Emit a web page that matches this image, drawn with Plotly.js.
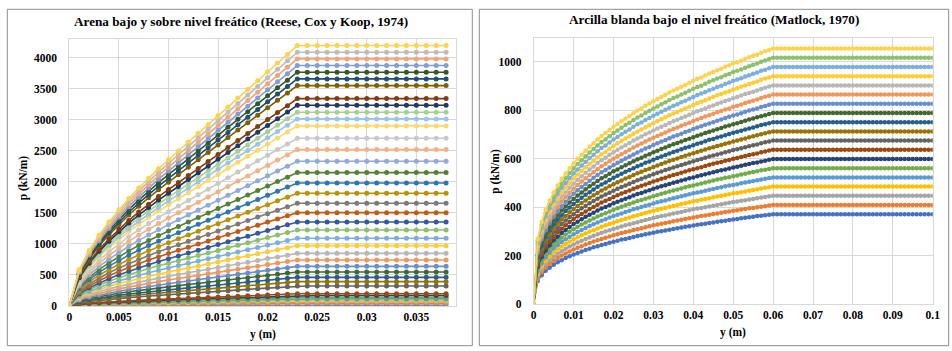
<!DOCTYPE html>
<html>
<head>
<meta charset="utf-8">
<script src="https://cdn.plot.ly/plotly-3.0.1.min.js"></script>
<style>
  html, body { margin: 0; padding: 0; background: #ffffff; }
  #chart { width: 952px; height: 351px; }
</style>
</head>
<body>
<div id="chart"></div>
<script>
// ---------- Left chart: Arena (Reese, Cox y Koop, 1974) ----------
const sandY = [0,0.001,0.002,0.003,0.004,0.005,0.006,0.007,0.008,0.009,0.010,0.011,0.012,0.013,0.014,0.015,0.016,0.017,0.018,0.019,0.020,0.021,0.022,0.023,0.024,0.025,0.026,0.027,0.028,0.029,0.030,0.031,0.032,0.033,0.034,0.035,0.036,0.037,0.038];

// plateau value (p_u) of each curve, bottom to top
const sandCap = [5,35,60,85,110,135,165,192,318,388,458,544,635,738,845,969,1088,1222,1351,1502,1653,1814,1981,2148,2331,2520,2703,2902,3015,3123,3236,3343,3553,3661,3769,3876,3984,4092,4199];

// rising part of each curve, y = 0 ... 0.022 m
const sandRise = [
  [0,0.7,1.1,1.4,1.6,1.8,2.1,2.3,2.5,2.6,2.8,3,3.1,3.3,3.5,3.7,3.8,4,4.2,4.3,4.5,4.7,4.8],
  [0,5,7,9,11,13,14,16,17,18,20,21,22,23,24,26,27,28,29,30,31,33,34],
  [0,8,13,16,19,22,25,27,29,32,34,36,38,40,42,44,46,48,50,52,54,56,58],
  [0,12,18,23,27,31,35,38,42,45,48,51,53,56,59,62,65,68,71,74,76,79,82],
  [0,15,23,30,35,41,45,50,54,58,62,65,69,73,77,80,84,88,91,95,99,103,106],
  [0,19,29,37,43,50,56,61,66,71,76,80,85,90,94,99,103,108,112,117,121,126,130],
  [0,23,35,45,53,61,68,75,81,87,93,98,104,109,115,120,126,132,137,143,148,154,159],
  [0,27,41,52,62,71,79,87,94,101,108,114,121,127,134,140,147,153,160,166,173,179,185],
  [0,44,67,86,102,117,131,144,156,168,178,189,200,211,221,232,243,254,264,275,286,297,307],
  [0,54,82,105,125,143,160,175,190,204,218,231,244,257,270,283,296,310,322,336,349,362,375],
  [0,64,97,124,147,169,189,207,224,241,257,273,288,304,319,334,350,365,381,396,412,427,442],
  [0,76,115,147,175,201,224,246,267,287,305,324,342,361,379,397,416,434,452,471,489,508,526],
  [0,88,135,172,204,234,262,287,311,335,356,378,399,421,442,464,485,507,528,549,571,592,613],
  [0,103,156,200,238,272,304,334,362,389,414,439,464,489,514,539,564,589,613,638,663,689,713],
  [0,117,179,229,272,312,348,382,414,445,474,503,532,560,588,617,646,674,702,731,760,788,816],
  [0,135,205,263,312,358,399,438,475,511,544,577,609,642,674,707,740,773,805,838,871,904,936],
  [0,151,231,295,350,401,448,492,533,573,610,647,684,721,757,794,831,868,904,941,978,1015,1051],
  [0,170,259,331,393,451,503,552,599,644,686,727,769,810,851,892,934,975,1015,1057,1099,1140,1180],
  [0,188,286,366,435,499,557,611,662,712,758,804,850,896,940,986,1032,1078,1123,1169,1215,1260,1305],
  [0,209,318,407,484,554,619,679,736,792,843,894,945,996,1045,1097,1148,1199,1248,1299,1350,1401,1451],
  [0,230,350,448,532,610,681,747,810,871,927,984,1040,1096,1151,1207,1263,1319,1374,1430,1486,1542,1597],
  [0,252,385,492,584,669,747,820,889,956,1018,1079,1141,1203,1263,1324,1386,1448,1507,1569,1631,1692,1752],
  [0,275,420,537,638,731,816,895,971,1044,1111,1179,1246,1313,1379,1446,1513,1581,1646,1714,1781,1848,1914],
  [0,299,455,582,692,793,885,971,1053,1132,1205,1278,1351,1424,1495,1568,1641,1714,1785,1858,1931,2004,2075],
  [0,324,494,632,751,860,960,1054,1142,1228,1308,1387,1466,1545,1622,1702,1781,1860,1937,2016,2096,2175,2252],
  [0,350,534,683,811,930,1038,1139,1235,1328,1414,1499,1585,1671,1754,1840,1925,2011,2094,2180,2265,2351,2434],
  [0,376,573,733,870,997,1114,1222,1325,1425,1516,1608,1700,1792,1881,1973,2065,2157,2246,2338,2430,2522,2611],
  [0,403,615,786,934,1071,1196,1312,1422,1529,1628,1727,1825,1924,2020,2118,2217,2316,2412,2510,2609,2708,2803],
  [0,419,639,817,971,1113,1242,1363,1477,1589,1691,1794,1896,1999,2098,2201,2303,2406,2505,2608,2710,2813,2912],
  [0,434,662,846,1006,1152,1287,1412,1530,1646,1752,1858,1964,2071,2174,2280,2386,2492,2595,2701,2808,2914,3017],
  [0,450,686,877,1042,1194,1333,1463,1586,1705,1815,1925,2035,2145,2252,2362,2472,2582,2689,2799,2909,3019,3126],
  [0,465,709,906,1076,1234,1377,1511,1638,1762,1875,1989,2103,2216,2327,2440,2554,2668,2778,2892,3005,3119,3229],
  [0,494,753,963,1144,1311,1464,1606,1741,1872,1993,2114,2235,2356,2473,2594,2715,2835,2953,3073,3194,3315,3432],
  [0,509,776,992,1179,1351,1508,1655,1794,1929,2054,2178,2303,2427,2548,2673,2797,2921,3042,3167,3291,3416,3537],
  [0,524,799,1021,1214,1391,1553,1704,1847,1986,2114,2243,2371,2499,2623,2751,2880,3008,3132,3260,3388,3516,3641],
  [0,539,822,1050,1248,1430,1597,1752,1899,2043,2174,2306,2438,2570,2698,2830,2961,3093,3221,3353,3485,3616,3744],
  [0,554,845,1080,1283,1470,1641,1801,1952,2100,2235,2370,2506,2641,2773,2908,3044,3179,3311,3446,3582,3717,3849],
  [0,569,868,1109,1318,1510,1686,1850,2005,2157,2296,2435,2574,2713,2848,2987,3126,3265,3400,3540,3679,3818,3953],
  [0,584,890,1138,1352,1549,1730,1898,2058,2213,2356,2498,2641,2784,2923,3065,3208,3351,3489,3632,3775,3918,4056]
];

// ---------- Right chart: Arcilla blanda (Matlock, 1970) ----------
const clayY = [0,0.001,0.002,0.003,0.004,0.005,0.006,0.007,0.008,0.009,0.010,0.011,0.012,0.013,0.014,0.015,0.016,0.017,0.018,0.019,0.020,0.021,0.022,0.023,0.024,0.025,0.026,0.027,0.028,0.029,0.030,0.031,0.032,0.033,0.034,0.035,0.036,0.037,0.038,0.039,0.040,0.041,0.042,0.043,0.044,0.045,0.046,0.047,0.048,0.049,0.050,0.051,0.052,0.053,0.054,0.055,0.056,0.057,0.058,0.059,0.060,0.061,0.062,0.063,0.064,0.065,0.066,0.067,0.068,0.069,0.070,0.071,0.072,0.073,0.074,0.075,0.076,0.077,0.078,0.079,0.080,0.081,0.082,0.083,0.084,0.085,0.086,0.087,0.088,0.089,0.090,0.091,0.092,0.093,0.094,0.095,0.096,0.097,0.098,0.099,0.100];

const clayCap = [371,409,447,485,523,561,599,637,675,713,751,789,827,865,903,941,979,1017,1055];

// rising part of each curve, y = 0 ... 0.060 m
const clayRise = [
  [0,95,119,137,150,162,172,181,190,197,204,211,217,223,228,234,239,244,248,253,257,261,266,269,273,277,281,284,288,291,294,298,301,304,307,310,313,316,319,321,324,327,329,332,335,337,340,342,344,347,349,351,354,356,358,360,363,365,367,369,371],
  [0,104,132,151,166,179,190,200,209,217,225,232,239,246,252,258,263,269,274,279,284,288,293,297,301,306,309,313,317,321,325,328,332,335,338,342,345,348,351,354,357,360,363,366,369,372,374,377,380,382,385,387,390,392,395,397,400,402,404,407,409],
  [0,114,144,165,181,195,208,218,228,238,246,254,261,268,275,282,288,294,299,305,310,315,320,325,329,334,338,343,347,351,355,359,363,366,370,374,377,380,384,387,391,394,397,400,403,406,409,412,415,418,421,423,426,429,432,434,437,440,442,445,447],
  [0,124,156,179,197,212,225,237,248,258,267,276,284,291,299,305,312,319,325,331,336,342,347,352,357,362,367,372,376,381,385,389,393,397,402,405,409,413,416,420,424,427,431,434,437,441,444,447,450,453,457,459,462,465,468,471,474,477,480,482,485],
  [0,134,168,193,212,229,243,256,267,278,288,297,306,314,322,329,337,344,350,357,363,369,374,380,385,391,396,401,406,410,415,420,424,428,433,437,441,445,449,453,457,461,464,468,472,475,479,482,486,489,492,495,499,502,505,508,511,514,517,520,523],
  [0,143,180,207,228,245,260,274,287,298,309,319,328,337,345,353,361,369,375,382,389,396,402,408,413,419,425,430,435,440,445,450,455,460,465,469,473,477,482,486,490,494,498,502,506,510,514,517,521,524,528,531,535,538,542,545,548,552,555,558,561],
  [0,153,193,221,243,262,278,293,306,318,330,340,350,360,369,377,386,394,401,408,416,422,429,435,441,448,454,459,465,470,476,481,486,491,496,501,505,510,514,519,523,528,532,536,540,544,548,552,556,560,564,567,571,575,578,582,585,589,592,596,599],
  [0,163,205,235,258,278,296,311,325,339,351,362,372,382,392,401,410,419,426,434,442,449,456,463,469,476,482,488,494,500,506,511,517,522,528,533,537,542,547,552,557,561,565,570,575,579,583,587,592,595,600,603,607,611,615,619,622,627,630,634,637],
  [0,172,217,249,274,295,313,330,345,359,371,384,395,405,416,425,435,444,452,460,468,476,483,490,497,504,511,517,524,530,536,542,547,553,559,564,569,574,579,585,590,595,599,604,609,613,618,622,627,631,636,639,643,648,652,656,659,664,668,671,675],
  [0,182,229,263,289,312,331,349,364,379,392,405,417,428,439,449,459,469,477,486,495,503,510,518,525,533,540,546,553,559,566,572,578,584,591,596,601,607,612,618,623,628,633,638,643,648,653,657,662,666,671,675,680,684,689,693,697,701,705,709,713],
  [0,192,241,277,305,328,348,367,384,399,413,427,439,451,462,473,484,494,502,512,521,530,538,546,553,561,569,575,583,589,596,603,609,615,622,628,633,639,645,650,656,662,666,672,678,682,688,692,697,702,707,711,716,721,725,729,734,739,743,747,751],
  [0,202,254,291,320,345,366,386,403,419,434,448,461,474,486,497,508,519,528,538,548,556,565,573,581,590,598,604,612,619,627,633,640,646,654,660,665,671,677,683,689,695,700,706,712,717,722,727,733,737,743,747,752,757,762,766,771,776,780,785,789],
  [0,211,266,305,335,361,384,404,422,440,455,470,483,496,509,521,533,544,553,564,574,583,592,601,609,618,626,634,642,649,657,664,671,677,685,692,697,703,710,716,723,729,734,740,746,751,757,762,768,773,779,783,788,794,799,803,808,814,818,823,827],
  [0,221,278,319,351,378,401,423,442,460,476,492,506,519,533,544,557,569,579,590,600,610,619,628,637,646,655,663,671,679,687,694,701,708,717,723,729,736,742,749,756,762,768,774,780,786,792,797,803,808,815,819,824,830,835,840,845,851,856,860,865],
  [0,231,290,333,366,395,419,442,461,480,497,513,528,542,556,568,582,594,604,616,627,637,646,656,665,675,684,692,701,708,717,725,732,739,748,755,761,768,775,782,789,796,801,808,815,820,827,832,839,844,850,855,861,867,872,877,882,888,893,898,903],
  [0,240,302,347,382,411,436,460,481,500,518,535,550,565,579,592,606,619,629,641,653,664,674,684,693,703,713,721,730,738,747,755,763,771,780,787,793,800,808,815,822,829,835,842,849,855,862,867,874,879,886,891,897,903,909,914,919,926,931,936,941],
  [0,250,315,361,397,428,454,479,500,520,539,556,572,588,603,616,631,644,655,667,680,690,701,711,721,732,742,750,760,768,778,786,794,802,811,819,825,833,840,848,855,863,869,876,883,889,896,902,909,915,922,927,933,940,945,951,956,963,968,974,979],
  [0,260,327,375,412,444,472,497,519,541,560,578,594,610,626,640,655,669,680,693,706,717,728,739,749,760,770,779,789,798,808,816,825,833,843,851,857,865,873,881,889,896,902,910,918,924,931,937,945,950,958,963,969,976,982,988,993,1001,1006,1012,1017],
  [0,269,339,389,428,461,489,516,539,561,580,600,617,633,650,664,680,694,706,719,732,744,755,766,777,788,799,808,819,828,838,847,855,864,874,882,889,897,905,914,922,930,936,944,952,958,966,972,980,986,994,999,1005,1013,1019,1025,1030,1038,1044,1049,1055]
];

// ---------- styles ----------
const sandColors = ['#4472C4','#ED7D31','#A5A5A5','#FFC000','#5B9BD5','#70AD47','#264478','#9E480E','#636363','#997300','#255E91','#43682B','#698ED0','#F1975A','#B7B7B7','#FFCD33','#7CAFDD','#8CC168','#335AA1','#C55A11','#7B7B7B','#BF9000','#2E75B6','#548235','#8FAADC','#F4B183','#C9C9C9','#FFD966','#9DC3E6','#A9D18E','#203864','#843C0C','#7F6000','#1F4E79','#375623','#7F9FD8','#F3A477','#BDBDBD','#FFD24D'];
const clayColors = ['#4472C4','#ED7D31','#A5A5A5','#FFC000','#5B9BD5','#70AD47','#264478','#9E480E','#636363','#997300','#255E91','#43682B','#698ED0','#F1975A','#B7B7B7','#FFCD33','#7CAFDD','#8CC168','#FFD24D'];

function fullCurve(xs, rise, cap) {
  const out = rise.slice();
  while (out.length < xs.length) out.push(cap);
  return out;
}

const traces = [];
sandRise.forEach((rise, i) => {
  traces.push({
    type: 'scatter', mode: 'lines+markers',
    x: sandY, y: fullCurve(sandY, rise, sandCap[i]),
    xaxis: 'x', yaxis: 'y',
    line: { color: sandColors[i], width: 1.6 },
    marker: { color: sandColors[i], size: 5, symbol: 'circle' },
    showlegend: false, hoverinfo: 'skip'
  });
});
clayRise.forEach((rise, i) => {
  traces.push({
    type: 'scatter', mode: 'lines+markers',
    x: clayY, y: fullCurve(clayY, rise, clayCap[i]),
    xaxis: 'x2', yaxis: 'y2',
    line: { color: clayColors[i], width: 1.6 },
    marker: { color: clayColors[i], size: 4.5, symbol: 'circle' },
    showlegend: false, hoverinfo: 'skip'
  });
});

const serif = '"Liberation Serif", "Times New Roman", serif';
const tickFont = { family: serif, size: 11.5, color: '#000000', weight: 'bold' };
const axisBase = {
  showgrid: true, gridcolor: '#D9D9D9', gridwidth: 1,
  zeroline: false, showline: true, linecolor: '#D9D9D9', linewidth: 1, mirror: true,
  ticks: '', tickfont: tickFont, fixedrange: true
};

const W = 952, H = 351;
const px = v => v / W;
const py = v => (H - v) / H;

const layout = {
  width: W, height: H,
  margin: { l: 0, r: 0, t: 0, b: 0 },
  paper_bgcolor: '#ffffff', plot_bgcolor: '#ffffff',
  showlegend: false,
  xaxis: Object.assign({}, axisBase, { domain: [px(69.3), px(456)], range: [0, 0.039], tick0: 0, dtick: 0.005, anchor: 'y', ticklabelstandoff: 0 }),
  yaxis: Object.assign({}, axisBase, { domain: [py(305.7), py(39.3)], range: [0, 4300], tick0: 0, dtick: 500, anchor: 'x', ticklabelstandoff: 9 }),
  xaxis2: Object.assign({}, axisBase, { domain: [px(533.7), px(932.7)], range: [0, 0.1], tick0: 0, dtick: 0.01, anchor: 'y2', ticklabelstandoff: 0 }),
  yaxis2: Object.assign({}, axisBase, { domain: [py(304), py(37.7)], range: [0, 1100], tick0: 0, dtick: 200, anchor: 'x2', ticklabelstandoff: 9 }),
  shapes: [
    { type: 'rect', xref: 'paper', yref: 'paper', x0: px(7.3), x1: px(472.3), y0: py(345.7), y1: py(9.3), line: { color: '#8C8C8C', width: 1 } },
    { type: 'rect', xref: 'paper', yref: 'paper', x0: px(479.3), x1: px(948.7), y0: py(345.7), y1: py(9.3), line: { color: '#8C8C8C', width: 1 } }
  ],
  annotations: [
    { text: 'Arena bajo y sobre nivel freático (Reese, Cox y Koop, 1974)', xref: 'paper', yref: 'paper', x: px(240.5), y: py(21.7), xanchor: 'center', yanchor: 'middle', showarrow: false, font: { family: serif, size: 13.2, color: '#000', weight: 'bold' } },
    { text: 'Arcilla blanda bajo el nivel freático (Matlock, 1970)', xref: 'paper', yref: 'paper', x: px(713.5), y: py(20), xanchor: 'center', yanchor: 'middle', showarrow: false, font: { family: serif, size: 13.2, color: '#000', weight: 'bold' } },
    { text: 'p (kN/m)', xref: 'paper', yref: 'paper', x: px(23.3), y: py(178), xanchor: 'center', yanchor: 'middle', textangle: -90, showarrow: false, font: { family: serif, size: 11.5, color: '#000', weight: 'bold' } },
    { text: 'p (kN/m)', xref: 'paper', yref: 'paper', x: px(496), y: py(171.7), xanchor: 'center', yanchor: 'middle', textangle: -90, showarrow: false, font: { family: serif, size: 11.5, color: '#000', weight: 'bold' } },
    { text: 'y (m)', xref: 'paper', yref: 'paper', x: px(263.3), y: py(334.3), xanchor: 'center', yanchor: 'middle', showarrow: false, font: { family: serif, size: 11.5, color: '#000', weight: 'bold' } },
    { text: 'y (m)', xref: 'paper', yref: 'paper', x: px(732.7), y: py(332.3), xanchor: 'center', yanchor: 'middle', showarrow: false, font: { family: serif, size: 11.5, color: '#000', weight: 'bold' } }
  ]
};

Plotly.newPlot('chart', traces, layout, { staticPlot: true, displayModeBar: false });
</script>
</body>
</html>
